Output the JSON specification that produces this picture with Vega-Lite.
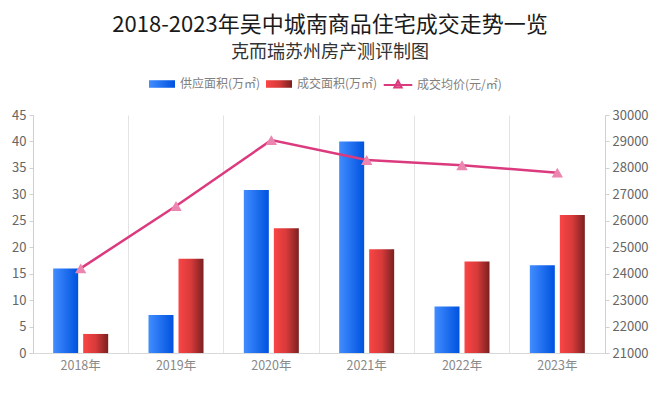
{
  "$schema": "https://vega.github.io/schema/vega-lite/v6.json",
  "width": 572,
  "height": 238,
  "autosize": {"type": "none"},
  "padding": {"left": 33, "top": 115, "right": 55, "bottom": 41},
  "background": "white",
  "config": {
    "font": "Noto Sans CJK SC",
    "view": {"stroke": null},
    "axis": {"labelFont": "Noto Sans CJK SC"}
  },
  "title": {
    "text": "2018-2023年吴中城南商品住宅成交走势一览",
    "subtitle": "克而瑞苏州房产测评制图",
    "anchor": "middle",
    "frame": "group",
    "dx": 11,
    "offset": 8,
    "fontSize": 22,
    "fontWeight": "normal",
    "color": "#1a1a1a",
    "subtitleFontSize": 18,
    "subtitleColor": "#333333",
    "subtitlePadding": 7,
    "subtitleFont": "Noto Sans CJK SC",
    "font": "Noto Sans CJK SC"
  },
  "datasets": {
    "bars": [
      {"year": "2018年", "series": "供应面积(万㎡)", "value": 16.0},
      {"year": "2018年", "series": "成交面积(万㎡)", "value": 3.6},
      {"year": "2019年", "series": "供应面积(万㎡)", "value": 7.2},
      {"year": "2019年", "series": "成交面积(万㎡)", "value": 17.8},
      {"year": "2020年", "series": "供应面积(万㎡)", "value": 30.8},
      {"year": "2020年", "series": "成交面积(万㎡)", "value": 23.6},
      {"year": "2021年", "series": "供应面积(万㎡)", "value": 40.0},
      {"year": "2021年", "series": "成交面积(万㎡)", "value": 19.6},
      {"year": "2022年", "series": "供应面积(万㎡)", "value": 8.8},
      {"year": "2022年", "series": "成交面积(万㎡)", "value": 17.3},
      {"year": "2023年", "series": "供应面积(万㎡)", "value": 16.6},
      {"year": "2023年", "series": "成交面积(万㎡)", "value": 26.1}
    ],
    "price": [
      {"year": "2018年", "series": "成交均价(元/㎡)", "price": 24200},
      {"year": "2019年", "series": "成交均价(元/㎡)", "price": 26560},
      {"year": "2020年", "series": "成交均价(元/㎡)", "price": 29050},
      {"year": "2021年", "series": "成交均价(元/㎡)", "price": 28300},
      {"year": "2022年", "series": "成交均价(元/㎡)", "price": 28100},
      {"year": "2023年", "series": "成交均价(元/㎡)", "price": 27820}
    ]
  },
  "layer": [
    {
      "data": {"name": "bars"},
      "mark": {"type": "bar"},
      "encoding": {
        "x": {
          "field": "year",
          "type": "nominal",
          "sort": null,
          "scale": {"paddingInner": 0, "paddingOuter": 0},
          "axis": {
            "title": null,
            "labelAngle": 0,
            "labelColor": "#888888",
            "labelFontSize": 12.5,
            "labelPadding": 6,
            "ticks": false,
            "domainColor": "#d9d9d9",
            "grid": true,
            "gridColor": "#e3e3e3",
            "bandPosition": 0
          }
        },
        "xOffset": {
          "field": "series",
          "type": "nominal",
          "sort": null,
          "scale": {"paddingInner": 0.1667, "paddingOuter": 0.672}
        },
        "y": {
          "field": "value",
          "type": "quantitative",
          "scale": {"domain": [0, 45], "nice": false},
          "axis": {
            "title": null,
            "values": [0, 5, 10, 15, 20, 25, 30, 35, 40, 45],
            "grid": false,
            "labelColor": "#666666",
            "labelFontSize": 13,
            "labelPadding": 3,
            "tickSize": 4,
            "tickColor": "#d0d0d0",
            "domainColor": "#d0d0d0"
          }
        },
        "fill": {
          "field": "series",
          "type": "nominal",
          "sort": null,
          "scale": {
            "domain": ["供应面积(万㎡)", "成交面积(万㎡)"],
            "range": [
              {"expr": "{gradient: 'linear', x1: 0, y1: 0, x2: 1, y2: 0, stops: [{offset: 0, color: '#418dff'}, {offset: 1, color: '#0052df'}]}"},
              {"expr": "{gradient: 'linear', x1: 0, y1: 0, x2: 1, y2: 0, stops: [{offset: 0, color: '#fa4545'}, {offset: 0.5, color: '#d83a3a'}, {offset: 1, color: '#7a2020'}]}"}
            ]
          },
          "legend": {
            "title": null,
            "orient": "none",
            "direction": "horizontal",
            "legendX": 116,
            "legendY": -44,
            "labelFontSize": 12,
            "labelColor": "#808080",
            "labelFont": "Noto Sans CJK SC",
            "symbolType": "M-1,-0.29H1V0.29H-1Z",
            "symbolSize": 676,
            "symbolStrokeWidth": 0,
            "symbolOpacity": 1,
            "labelOffset": 5,
            "columnPadding": 5
          }
        }
      }
    },
    {
      "data": {"name": "price"},
      "mark": {"type": "line", "strokeWidth": 2.5},
      "encoding": {
        "x": {"field": "year", "type": "nominal", "sort": null},
        "y": {
          "field": "price",
          "type": "quantitative",
          "scale": {"domain": [21000, 30000], "nice": false},
          "axis": {
            "title": null,
            "orient": "right",
            "values": [21000, 22000, 23000, 24000, 25000, 26000, 27000, 28000, 29000, 30000],
            "format": "d",
            "grid": false,
            "labelColor": "#666666",
            "labelFontSize": 13,
            "labelPadding": 3,
            "tickSize": 4,
            "tickColor": "#d0d0d0",
            "domainColor": "#d0d0d0"
          }
        },
        "stroke": {
          "field": "series",
          "type": "nominal",
          "scale": {"domain": ["成交均价(元/㎡)"], "range": ["#dc3a7e"]},
          "legend": {
            "title": null,
            "orient": "none",
            "direction": "horizontal",
            "legendX": 351,
            "legendY": -44,
            "labelFontSize": 12,
            "labelColor": "#808080",
            "labelFont": "Noto Sans CJK SC",
            "symbolType": "M-1.1,0H1.1 M0,-0.34L0.28,0.2H-0.28Z",
            "symbolSize": 676,
            "symbolStrokeWidth": 2,
            "symbolFillColor": "#ec86b0",
            "symbolOpacity": 1,
            "labelOffset": 5
          }
        }
      }
    },
    {
      "data": {"name": "price"},
      "mark": {"type": "point", "shape": "triangle-up", "filled": true, "fill": "#ec86b0", "opacity": 1, "size": 130, "strokeWidth": 0},
      "encoding": {
        "x": {"field": "year", "type": "nominal", "sort": null},
        "y": {"field": "price", "type": "quantitative", "scale": {"domain": [21000, 30000], "nice": false}, "axis": null}
      }
    }
  ],
  "resolve": {"scale": {"y": "independent"}}
}
